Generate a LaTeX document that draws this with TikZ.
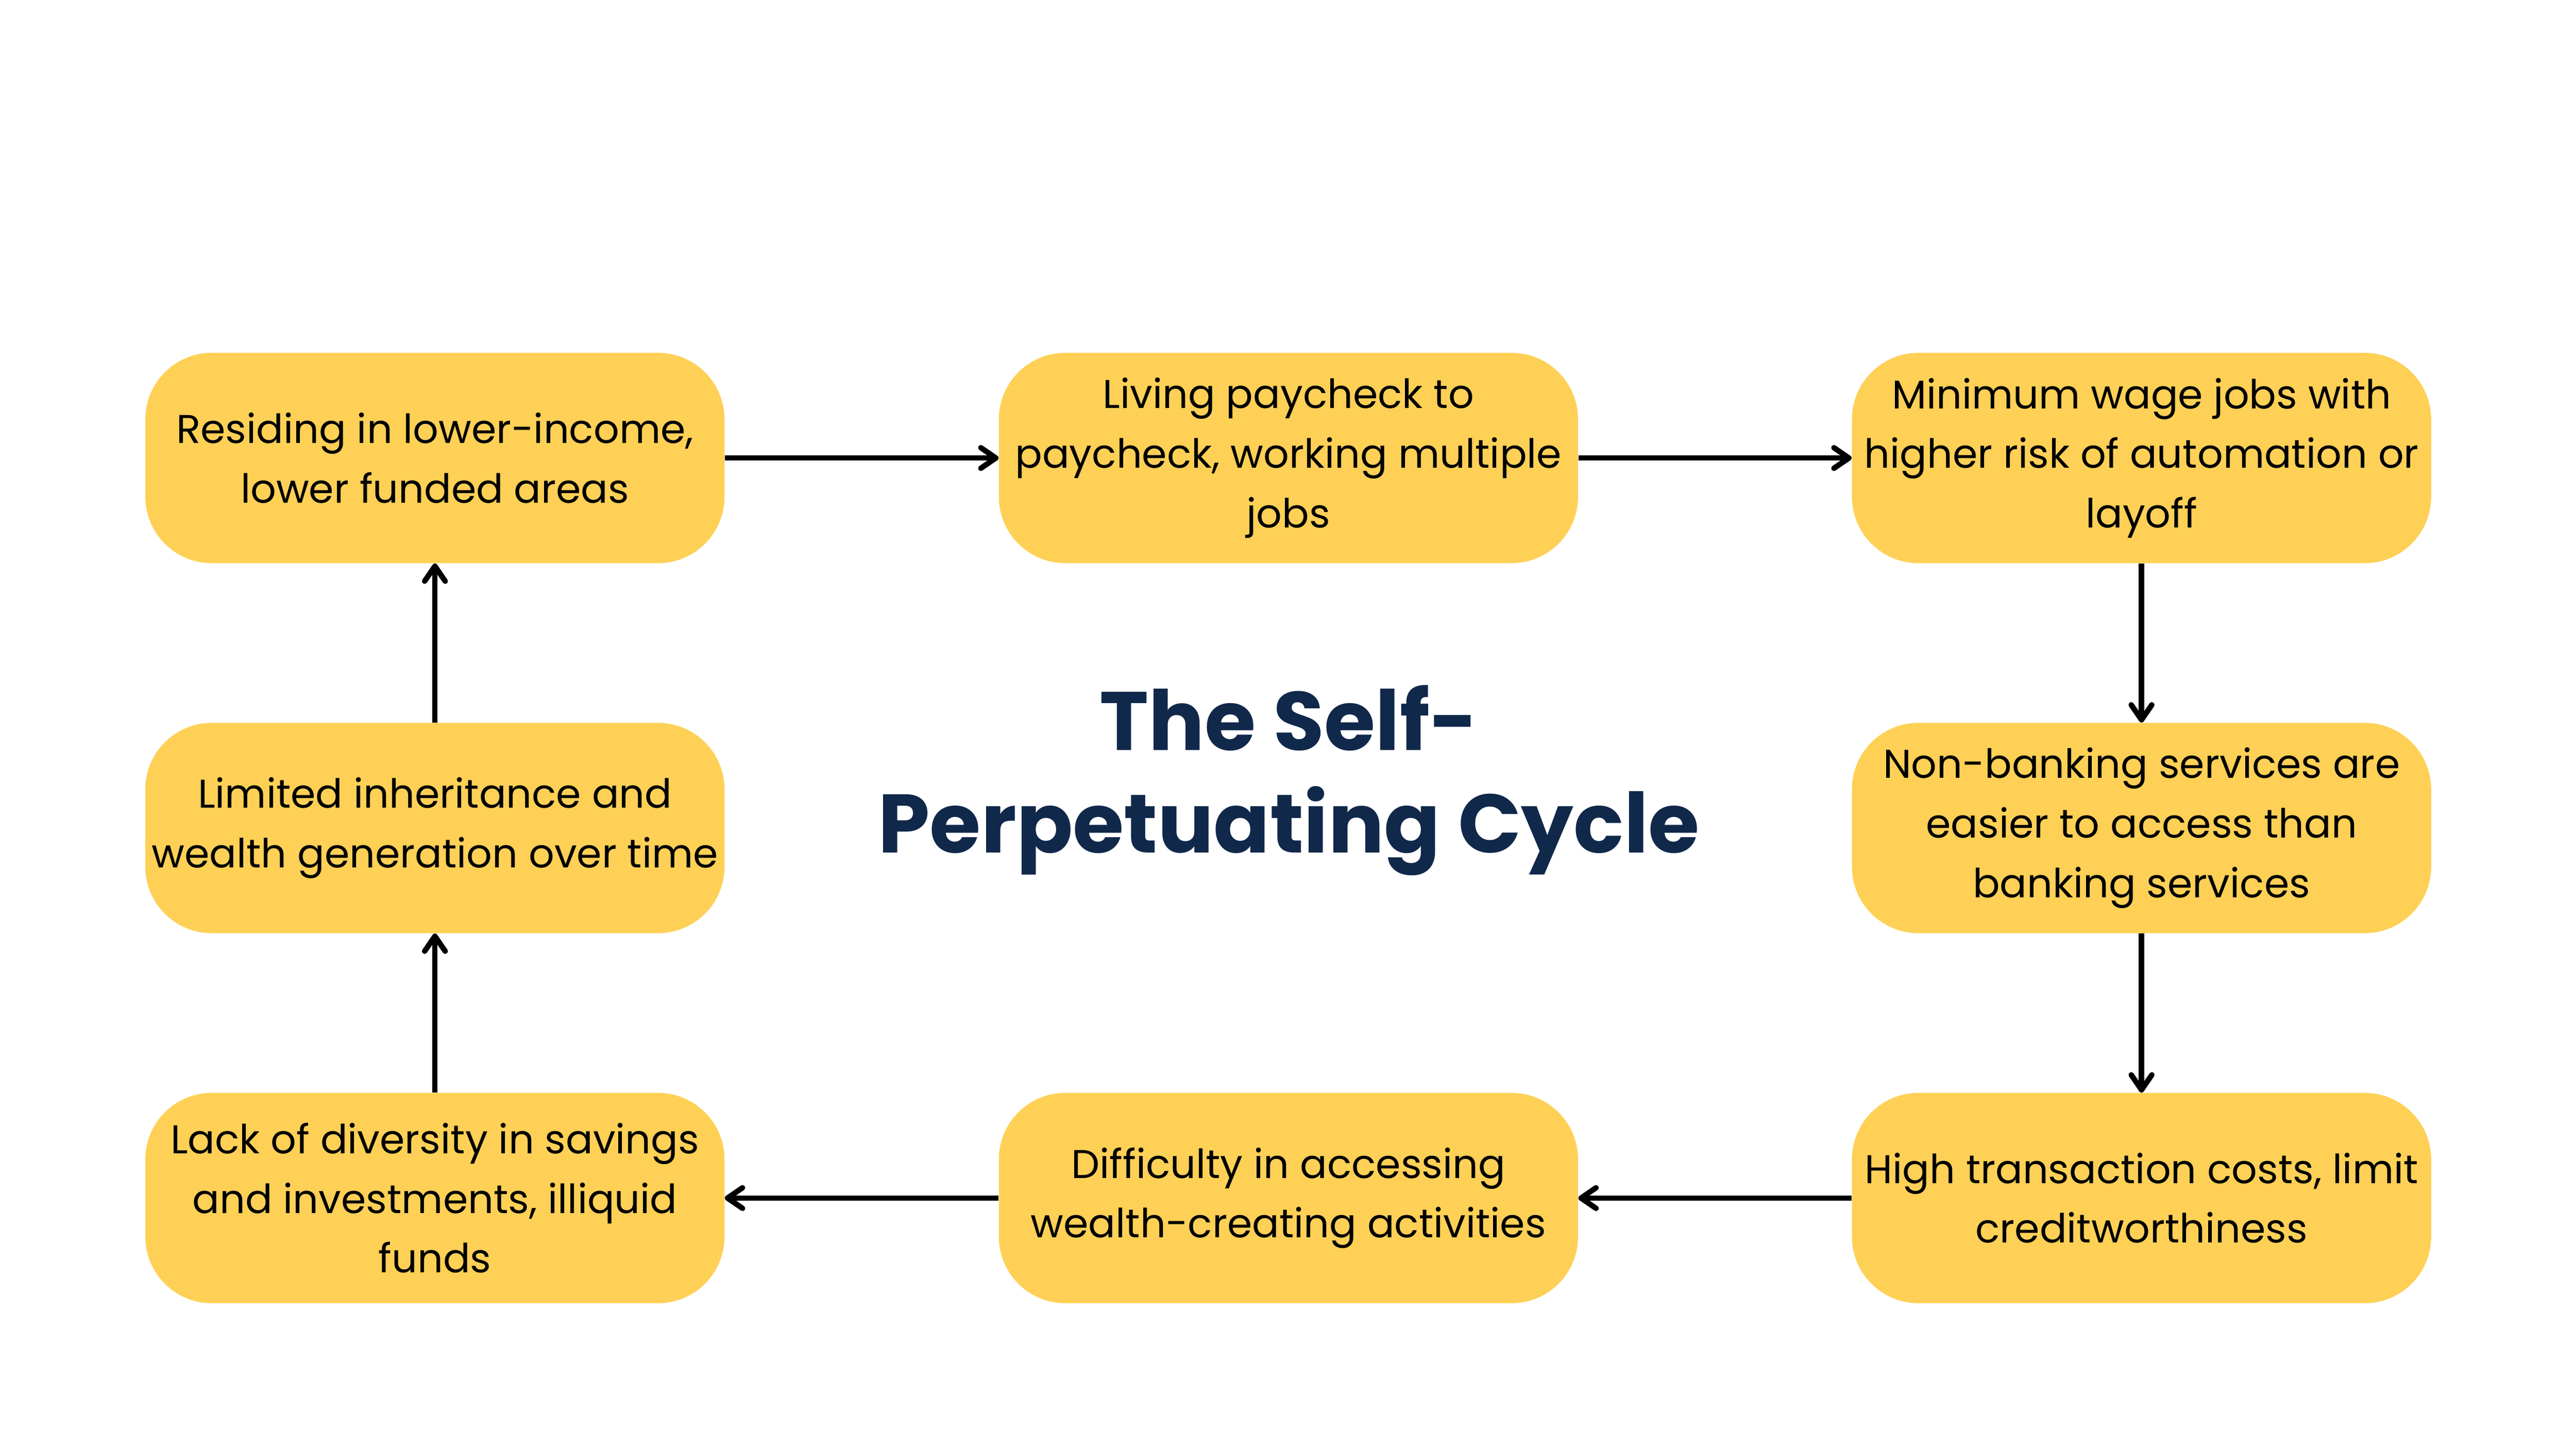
\documentclass[tikz,border=0pt]{standalone}
\usepackage{fontspec}
\setmainfont{Poppins}
\usetikzlibrary{arrows.meta}
\definecolor{boxyellow}{RGB}{254,208,86}
\definecolor{titleblue}{RGB}{16,40,74}

\begin{document}
\begin{tikzpicture}[
  box/.style={fill=boxyellow,rounded corners=1.55cm,minimum width=13.49cm,minimum height=4.9cm,
    align=center,inner sep=0pt,font=\fontsize{26.6}{39.5}\selectfont},
  arr/.style={-{Straight Barb[length=3.5mm,width=4.8mm,round]},line width=3.6pt},
  ttl/.style={anchor=base,text=titleblue,font=\fontsize{55}{66}\selectfont\bfseries}
]
\useasboundingbox (0,0) rectangle (60,33.75);

% top row
\node[box] (res) at (10.13,23.08) {Residing in lower-income,\\lower funded areas};
\node[box] (pay) at (30.01,23.08) {Living paycheck to\\paycheck, working multiple\\jobs};
\node[box] (wage) at (49.88,23.08) {Minimum wage jobs with\\higher risk of automation or\\layoff};

% middle row
\node[box] (inh) at (10.13,14.46) {Limited inheritance and\\wealth generation over time};
\node[box] (nonbank) at (49.88,14.46) {Non-banking services are\\easier to access than\\banking services};

% bottom row
\node[box] (lack) at (10.13,5.84) {Lack of diversity in savings\\and investments, illiquid\\funds};
\node[box] (diff) at (30.01,5.84) {Difficulty in accessing\\wealth-creating activities};
\node[box] (cost) at (49.88,5.84) {High transaction costs, limit\\creditworthiness};

% title
\node[ttl] (title) at (30.02,16.27) {The Self-};
\node[ttl] (titleb) at (30.02,13.88) {Perpetuating Cycle};

\draw[arr] (res) -- (pay);
\draw[arr] (pay) -- (wage);
\draw[arr] (wage) -- (nonbank);
\draw[arr] (nonbank) -- (cost);
\draw[arr] (cost) -- (diff);
\draw[arr] (diff) -- (lack);
\draw[arr] (lack) -- (inh);
\draw[arr] (inh) -- (res);
\end{tikzpicture}
\end{document}
